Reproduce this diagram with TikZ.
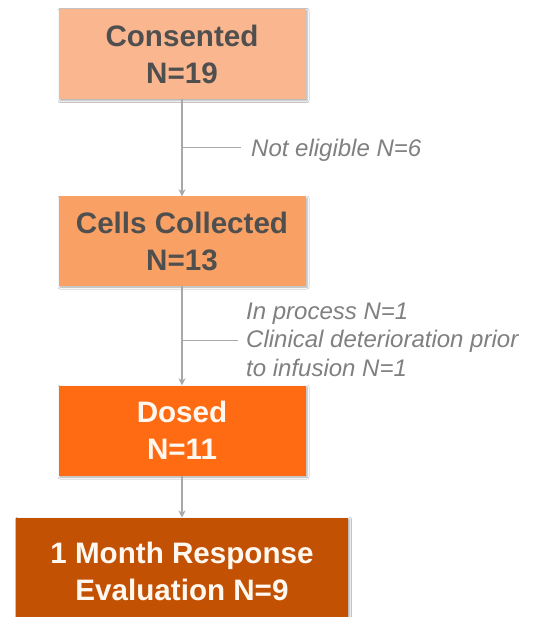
\documentclass[tikz,border=0pt]{standalone}
\usepackage{fontspec}
\setmainfont{Liberation Sans}
\usetikzlibrary{arrows.meta,shadows.blur}
\definecolor{boxA}{HTML}{FAB68F}
\definecolor{boxB}{HTML}{F9A164}
\definecolor{boxC}{HTML}{FF6B12}
\definecolor{boxD}{HTML}{C35103}
\definecolor{darktxt}{HTML}{4F4F4F}
\definecolor{lighttxt}{HTML}{FFF8F0}
\definecolor{sidetxt}{HTML}{808080}
\definecolor{connclr}{HTML}{A8A8A8}
\tikzset{
  flowbox/.style={rectangle, inner sep=0pt, align=center,
    font=\fontsize{29.6}{37}\selectfont\bfseries,
    blur shadow={shadow xshift=1.5pt, shadow yshift=-1.5pt, shadow blur radius=2pt, shadow opacity=35}},
  sidenote/.style={inner sep=0pt, align=left, text=sidetxt,
    font=\fontsize{24}{28.5}\selectfont\itshape},
  conn/.style={draw=connclr, line width=2.2pt, -{Stealth[length=7pt,width=7pt]}},
  branch/.style={draw=connclr, line width=1pt}
}
\begin{document}
\begin{tikzpicture}[x=1pt,y=-1pt]
\useasboundingbox (0,0) rectangle (539,617);
\clip (0,0) rectangle (539,617);
\fill[white] (0,0) rectangle (539,617);

\node[flowbox, fill=boxA, text=darktxt, minimum width=247pt, minimum height=90pt] (c1) at (182,54) {Consented\\N=19};
\node[flowbox, fill=boxB, text=darktxt, minimum width=247pt, minimum height=89pt] (c2) at (182,241) {Cells Collected\\N=13};
\node[flowbox, fill=boxC, text=lighttxt, minimum width=247pt, minimum height=90pt] (c3) at (182,430.5) {Dosed\\N=11};
\node[flowbox, fill=boxD, text=lighttxt, minimum width=332pt, minimum height=107pt] (c4) at (182,571.2) {1 Month Response\\Evaluation N=9};

\draw[conn] (c1.south) -- (c2.north);
\draw[conn] (c2.south) -- (c3.north);
\draw[conn] (c3.south) -- (c4.north);

\coordinate (b1) at (182,148);
\coordinate (e1) at (241,148);
\draw[branch] (b1) -- (e1);
\node[sidenote, anchor=base west] (t1) at (251,156.6) {Not eligible N=6};

\coordinate (b2) at (182,340.4);
\coordinate (e2) at (237.5,340.4);
\draw[branch] (b2) -- (e2);
\node[sidenote, anchor=west] (t2) at (246,339.7) {In process N=1\\Clinical deterioration prior\\to infusion N=1};
\end{tikzpicture}
\end{document}
